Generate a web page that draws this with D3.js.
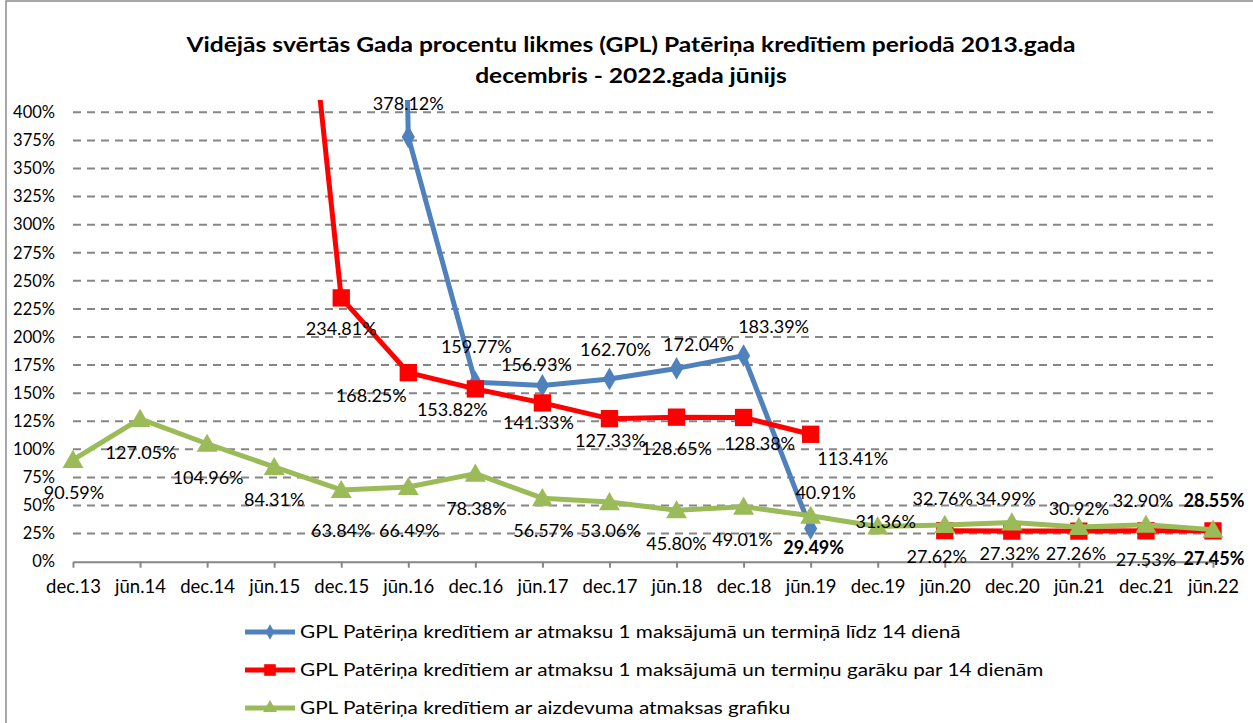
<!DOCTYPE html>
<html>
<head>
<meta charset="utf-8">
<script src="https://cdn.jsdelivr.net/npm/d3@7"></script>
<style>
  body { margin: 0; background: #fff; }
  #chart { width: 1253px; height: 723px; }
  text { font-family: Lato, "Open Sans", sans-serif; }
</style>
</head>
<body>
<div id="chart"></div>
<script>
// categories and series (percent values)
const categories = ["dec.13", "jūn.14", "dec.14", "jūn.15", "dec.15", "jūn.16", "dec.16", "jūn.17", "dec.17",
    "jūn.18", "dec.18", "jūn.19", "dec.19", "jūn.20", "dec.20", "jūn.21", "dec.21", "jūn.22"];

const blueValues = [null, null, null, null, 3200, 378.12, 159.77, 156.93, 162.70, 172.04, 183.39, 29.49,
    null, null, null, null, null, null];
const redValues = [null, null, null, 797, 234.81, 168.25, 153.82, 141.33, 127.33, 128.65, 128.38, 113.41,
    null, 27.62, 27.32, 27.26, 27.53, 27.45];
const greenValues = [90.59, 127.05, 104.96, 84.31, 63.84, 66.49, 78.38, 56.57, 53.06, 45.80, 49.01, 40.91,
    31.36, 32.76, 34.99, 30.92, 32.90, 28.55];

const yTicks = [0, 25, 50, 75, 100, 125, 150, 175, 200, 225, 250, 275, 300, 325, 350, 375, 400];

const seriesNames = [
    "GPL Patēriņa kredītiem ar atmaksu 1 maksājumā un termiņā līdz 14 dienā",
    "GPL Patēriņa kredītiem ar atmaksu 1 maksājumā un termiņu garāku par 14 dienām",
    "GPL Patēriņa kredītiem ar aizdevuma atmaksas grafiku"
];

// label nudges (dx, dy from the point to the label centre), like moved labels in the original
const blueLabelOffset = [null, null, null, null, null, [0, -33], [1, -35], [-6, -21], [6, -29], [22, -24],
    [30, -29], [3, 19], null, null, null, null, null, null];
const redLabelOffset = [null, null, null, null, [0, 31], [-37, 23], [-23, 21], [-4, 20], [1, 22], [0, 32],
    [16, 26], [42, 24], null, [-8, 26], [-2, 23], [-3, 23], [0, 29], [1, 28]];
const greenLabelOffset = [[1, 33], [1, 34], [1, 34], [0, 33], [0, 41], [1, 44], [1, 35], [1, 33], [1, 29],
    [0, 33], [-1, 33], [15, -23], [8, -5], [-2, -26], [-6, -24], [0, -18], [-3, -24], [1, -29]];

const width = 1253, height = 723;
const plotLeft = 73, plotRight = 1213, plotTop = 100, zeroY = 561.7, topTickY = 112.3;

const svg = d3.select("#chart").append("svg")
    .attr("width", width)
    .attr("height", height);

// chart frame
svg.append("rect")
    .attr("x", 6).attr("y", 1)
    .attr("width", 1300).attr("height", 800)
    .attr("fill", "white")
    .attr("stroke", "#8c8c8c")
    .attr("stroke-width", 1.5);

// title (the original text is a little wider than Lato, so stretch it)
const title = svg.append("text")
    .attr("transform", "translate(631,0) scale(1.2,1)")
    .attr("text-anchor", "middle")
    .attr("font-weight", "bold")
    .attr("font-size", 20.5)
    .attr("fill", "#000");
title.append("tspan").attr("x", 0).attr("y", 52)
    .text("Vidējās svērtās Gada procentu likmes (GPL) Patēriņa kredītiem periodā 2013.gada");
title.append("tspan").attr("x", 0).attr("y", 83)
    .text("decembris - 2022.gada jūnijs");

const x = d3.scalePoint()
    .domain(categories)
    .range([plotLeft, plotRight]);

const y = d3.scaleLinear()
    .domain([0, 400])
    .range([zeroY, topTickY]);

// gridlines
svg.append("g")
    .selectAll("line")
    .data(yTicks.filter(d => d > 0))
    .join("line")
    .attr("x1", plotLeft)
    .attr("x2", plotRight)
    .attr("y1", d => y(d))
    .attr("y2", d => y(d))
    .attr("stroke", "#868686")
    .attr("stroke-width", 2)
    .attr("stroke-dasharray", "8,6");

// y axis
const yAxis = svg.append("g")
    .attr("transform", `translate(${plotLeft - 18},0)`)
    .call(d3.axisLeft(y).tickValues(yTicks).tickSize(0).tickPadding(0).tickFormat(d => d + "%"));
yAxis.select(".domain").remove();
yAxis.selectAll("text")
    .attr("font-size", 16.5)
    .attr("fill", "#000")
    .attr("font-family", "Lato, sans-serif");

// x axis
const xAxis = svg.append("g")
    .attr("transform", `translate(0,${zeroY})`)
    .call(d3.axisBottom(x).tickSizeInner(6).tickSizeOuter(0).tickPadding(12));
xAxis.select(".domain").attr("stroke", "#868686").attr("stroke-width", 2);
xAxis.selectAll(".tick line").attr("stroke", "#868686").attr("stroke-width", 2);
xAxis.selectAll("text")
    .attr("font-size", 18.5)
    .attr("fill", "#000")
    .attr("font-family", "Lato, sans-serif");

// clip for series that run off the top
svg.append("clipPath")
    .attr("id", "plot-clip")
    .append("rect")
    .attr("x", 0).attr("y", plotTop)
    .attr("width", width).attr("height", zeroY - plotTop + 20);

const series = [
    {values: blueValues, color: "#4F81BD", marker: "diamond", offsets: blueLabelOffset, bold: [11]},
    {values: redValues, color: "#FF0000", marker: "square", offsets: redLabelOffset, bold: [17]},
    {values: greenValues, color: "#9BBB59", marker: "triangle", offsets: greenLabelOffset, bold: [17]}
];

const symbolType = {
    diamond: d3.symbolDiamond,
    square: d3.symbolSquare,
    triangle: d3.symbolTriangle
};
const symbolSize = {diamond: 150, square: 300, triangle: 190};

const line = d3.line()
    .defined(d => d.v !== null)
    .x(d => x(d.c))
    .y(d => y(d.v));

const plot = svg.append("g").attr("clip-path", "url(#plot-clip)");

series.forEach(s => {
    const pts = categories.map((c, i) => ({c: c, v: s.values[i], i: i}));

    plot.append("path")
        .datum(pts)
        .attr("d", line)
        .attr("fill", "none")
        .attr("stroke", s.color)
        .attr("stroke-width", 5)
        .attr("stroke-linejoin", "round");

    plot.selectAll(null)
        .data(pts.filter(d => d.v !== null && d.v <= 410))
        .join("path")
        .attr("transform", d => `translate(${x(d.c)},${y(d.v) + (s.marker === "triangle" ? 2 : 0)})`)
        .attr("d", d3.symbol().type(symbolType[s.marker]).size(symbolSize[s.marker]))
        .attr("fill", s.color);
});

// data labels (drawn last so they sit on top)
series.forEach(s => {
    const pts = categories.map((c, i) => ({c: c, v: s.values[i], i: i}))
        .filter(d => d.v !== null && s.offsets[d.i] !== null);

    svg.append("g")
        .selectAll("text")
        .data(pts)
        .join("text")
        .attr("x", d => x(d.c) + s.offsets[d.i][0])
        .attr("y", d => y(d.v) + s.offsets[d.i][1])
        .attr("dy", "0.35em")
        .attr("text-anchor", "middle")
        .attr("font-size", 18)
        .attr("font-weight", d => s.bold.includes(d.i) ? "bold" : "normal")
        .attr("fill", "#000")
        .text(d => d.v.toFixed(2) + "%");
});

// legend
const legend = svg.append("g")
    .selectAll("g")
    .data(series)
    .join("g")
    .attr("transform", (d, i) => `translate(245,${632 + i * 38})`);

legend.append("line")
    .attr("x1", 0).attr("x2", 50)
    .attr("y1", 0).attr("y2", 0)
    .attr("stroke", d => d.color)
    .attr("stroke-width", 5);

legend.append("path")
    .attr("transform", "translate(25,0)")
    .attr("d", d => d3.symbol().type(symbolType[d.marker]).size(symbolSize[d.marker] * 0.45)())
    .attr("fill", d => d.color);

legend.append("text")
    .attr("transform", "translate(55,0) scale(1.22,1)")
    .attr("dy", "0.35em")
    .attr("font-size", 17)
    .attr("fill", "#000")
    .text((d, i) => seriesNames[i]);
</script>
</body>
</html>
